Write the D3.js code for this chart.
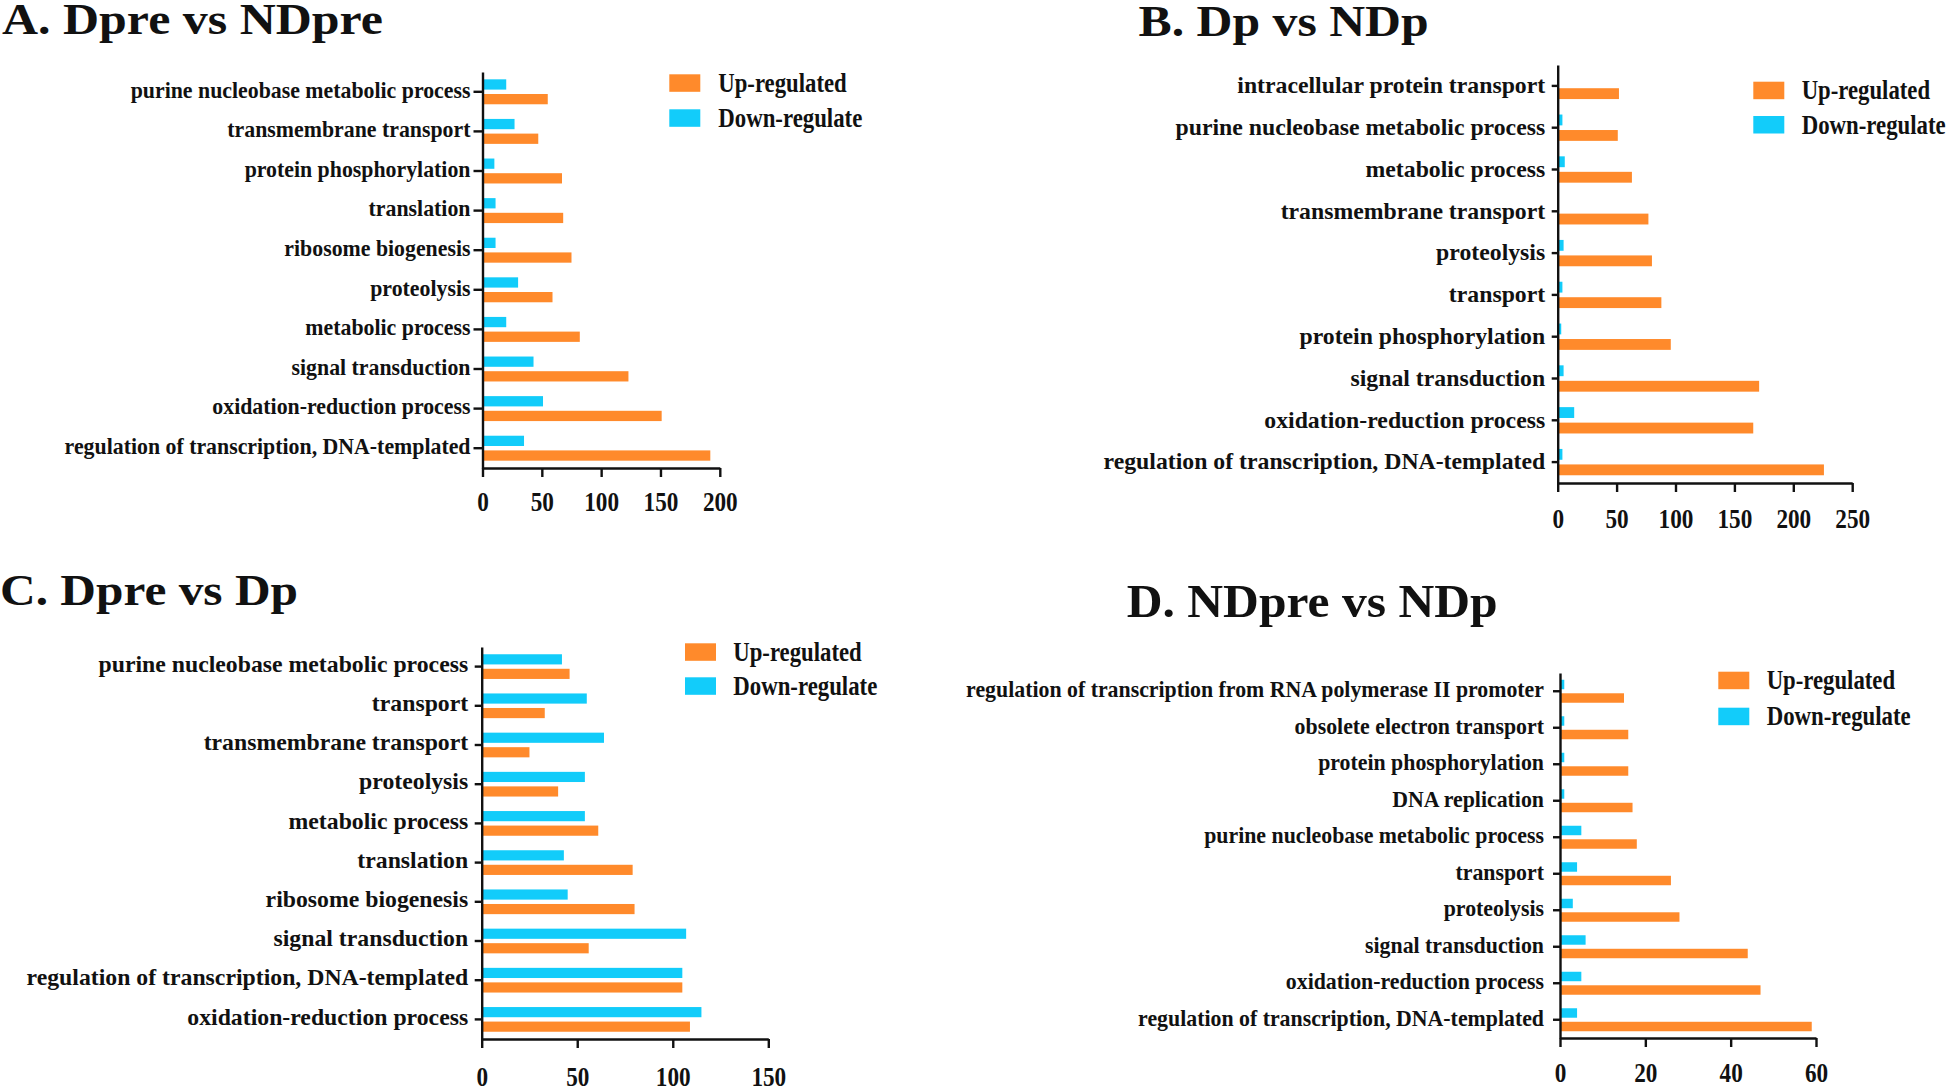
<!DOCTYPE html>
<html><head><meta charset="utf-8">
<script src="https://cdn.jsdelivr.net/npm/d3@7"></script>
<style>
html,body{margin:0;padding:0;background:#fff;}
svg{display:block;}
text{font-family:"Liberation Serif","Times New Roman",serif;font-weight:bold;fill:#111;}
</style>
</head><body>
<svg id="chart" width="1946" height="1086"></svg>
<script>
// ---------- data ----------
const seriesKeys = ["down", "up"];
const legendKeys = ["up", "down"];
const legendLabels = ["Up-regulated", "Down-regulate"];

const titleA = "A. Dpre vs NDpre";
const categoriesA = ["purine nucleobase metabolic process","transmembrane transport","protein phosphorylation","translation","ribosome biogenesis","proteolysis","metabolic process","signal transduction","oxidation-reduction process","regulation of transcription, DNA-templated"];
const upA   = [55, 47, 67, 68, 75, 59, 82, 123, 151, 192];
const downA = [20, 27, 10, 11, 11, 30, 20, 43, 51, 35];
const ticksA = [0, 50, 100, 150, 200];

const titleB = "B. Dp vs NDp";
const categoriesB = ["intracellular protein transport","purine nucleobase metabolic process","metabolic process","transmembrane transport","proteolysis","transport","protein phosphorylation","signal transduction","oxidation-reduction process","regulation of transcription, DNA-templated"];
const upB   = [52, 51, 63, 77, 80, 88, 96, 171, 166, 226];
const downB = [0, 4, 6, 0, 5, 4, 3, 5, 14, 4];
const ticksB = [0, 50, 100, 150, 200, 250];

const titleC = "C. Dpre vs Dp";
const categoriesC = ["purine nucleobase metabolic process","transport","transmembrane transport","proteolysis","metabolic process","translation","ribosome biogenesis","signal transduction","regulation of transcription, DNA-templated","oxidation-reduction process"];
const upC   = [46, 33, 25, 40, 61, 79, 80, 56, 105, 109];
const downC = [42, 55, 64, 54, 54, 43, 45, 107, 105, 115];
const ticksC = [0, 50, 100, 150];

const titleD = "D. NDpre vs NDp";
const categoriesD = ["regulation of transcription from RNA polymerase II promoter","obsolete electron transport","protein phosphorylation","DNA replication","purine nucleobase metabolic process","transport","proteolysis","signal transduction","oxidation-reduction process","regulation of transcription, DNA-templated"];
const upD   = [15, 16, 16, 17, 18, 26, 28, 44, 47, 59];
const downD = [1, 1, 1, 1, 5, 4, 3, 6, 5, 4];
const ticksD = [0, 20, 40, 60];

// ---------- styles / layout ----------
const colors = {up: "#FF8A2B", down: "#12CCFA"};

const panels = [
  {title: titleA, cats: categoriesA, up: upA, down: downA, ticks: ticksA,
   xr: [482.5, 719.8], yr: [72, 468],
   tX: 2, tY: 33.5, tSize: 44, tLen: 381,
   lSize: 24, lScale: 0.91, tickLen: 9, tickPad: 3, lDy: "0.24em", numY: 511,
   legX: 669.3, legY: 74.3, legGap: 35, legTX: 718.3},
  {title: titleB, cats: categoriesB, up: upB, down: downB, ticks: ticksB,
   xr: [1557.7, 1852.2], yr: [65, 483],
   tX: 1138.6, tY: 36.3, tSize: 44, tLen: 290,
   lSize: 24, lScale: 0.99, tickLen: 6, tickPad: 6.5, lDy: "0.3em", numY: 528,
   legX: 1753.3, legY: 81.7, legGap: 34.3, legTX: 1801.7},
  {title: titleC, cats: categoriesC, up: upC, down: downC, ticks: ticksC,
   xr: [481.7, 768.3], yr: [647, 1039],
   tX: 0, tY: 605, tSize: 45, tLen: 298,
   lSize: 24, lScale: 0.99, tickLen: 7, tickPad: 6.5, lDy: "0.22em", numY: 1086,
   legX: 685, legY: 643.3, legGap: 34, legTX: 733.3},
  {title: titleD, cats: categoriesD, up: upD, down: downD, ticks: ticksD,
   xr: [1560, 1816], yr: [673, 1038],
   tX: 1126.7, tY: 616.7, tSize: 47, tLen: 371,
   lSize: 24, lScale: 0.91, tickLen: 7, tickPad: 9, lDy: "0.26em", numY: 1082,
   legX: 1718.3, legY: 671.7, legGap: 36, legTX: 1766.7}
];

const svg = d3.select("#chart");

panels.forEach(p => {
  const g = svg.append("g");
  const x = d3.scaleLinear().domain([0, d3.max(p.ticks)]).range(p.xr);
  const y = d3.scaleBand().domain(p.cats).range(p.yr).paddingInner(0.37).paddingOuter(0.185);
  const ySub = d3.scaleBand().domain(seriesKeys).range([0, y.bandwidth()]).paddingInner(0.3);

  // title
  g.append("text")
    .attr("x", p.tX).attr("y", p.tY)
    .attr("font-size", p.tSize)
    .attr("textLength", p.tLen).attr("lengthAdjust", "spacingAndGlyphs")
    .text(p.title);

  // bars
  const rows = p.cats.map((c, i) => ({cat: c, up: p.up[i], down: p.down[i]}));
  const grp = g.selectAll("g.row").data(rows).join("g")
    .attr("class", "row")
    .attr("transform", d => `translate(0,${y(d.cat)})`);
  grp.selectAll("rect").data(d => seriesKeys.map(k => ({key: k, value: d[k]}))).join("rect")
    .attr("x", x(0))
    .attr("y", d => ySub(d.key))
    .attr("width", d => x(d.value) - x(0))
    .attr("height", ySub.bandwidth())
    .attr("fill", d => colors[d.key]);

  // y axis
  const ya = g.append("g").attr("transform", `translate(${p.xr[0]},0)`)
    .call(d3.axisLeft(y).tickSize(p.tickLen).tickSizeOuter(0));
  ya.select(".domain").attr("stroke", "#111").attr("stroke-width", 2.4);
  ya.selectAll(".tick line").attr("stroke", "#111").attr("stroke-width", 2.4);
  ya.selectAll(".tick text")
    .attr("x", 0).attr("dy", p.lDy)
    .attr("transform", `translate(${-(p.tickLen + p.tickPad)},0) scale(${p.lScale},1)`)
    .attr("font-size", p.lSize)
    .attr("font-family", null)
    .attr("fill", "#111");

  // x axis
  const xa = g.append("g").attr("transform", `translate(0,${p.yr[1]})`)
    .call(d3.axisBottom(x).tickValues(p.ticks).tickSize(9).tickSizeOuter(0).tickFormat(d3.format("d")));
  xa.select(".domain").attr("stroke", "#111").attr("stroke-width", 2.4);
  xa.selectAll(".tick line").attr("stroke", "#111").attr("stroke-width", 2.4);
  xa.selectAll(".tick text")
    .attr("y", 0).attr("dy", 0)
    .attr("transform", `translate(0,${p.numY - p.yr[1]}) scale(0.86,1)`)
    .attr("font-size", 27)
    .attr("font-family", null)
    .attr("fill", "#111");

  // legend
  const lg = g.append("g");
  legendKeys.forEach((k, i) => {
    const yy = p.legY + i * p.legGap;
    lg.append("rect").attr("x", p.legX).attr("y", yy)
      .attr("width", 31).attr("height", 17.5).attr("fill", colors[k]);
    lg.append("text").attr("x", p.legTX).attr("y", yy + 17.5)
      .attr("font-size", 27)
      .attr("textLength", i === 0 ? 128.4 : 144).attr("lengthAdjust", "spacingAndGlyphs")
      .text(legendLabels[i]);
  });
});
</script>
</body></html>
